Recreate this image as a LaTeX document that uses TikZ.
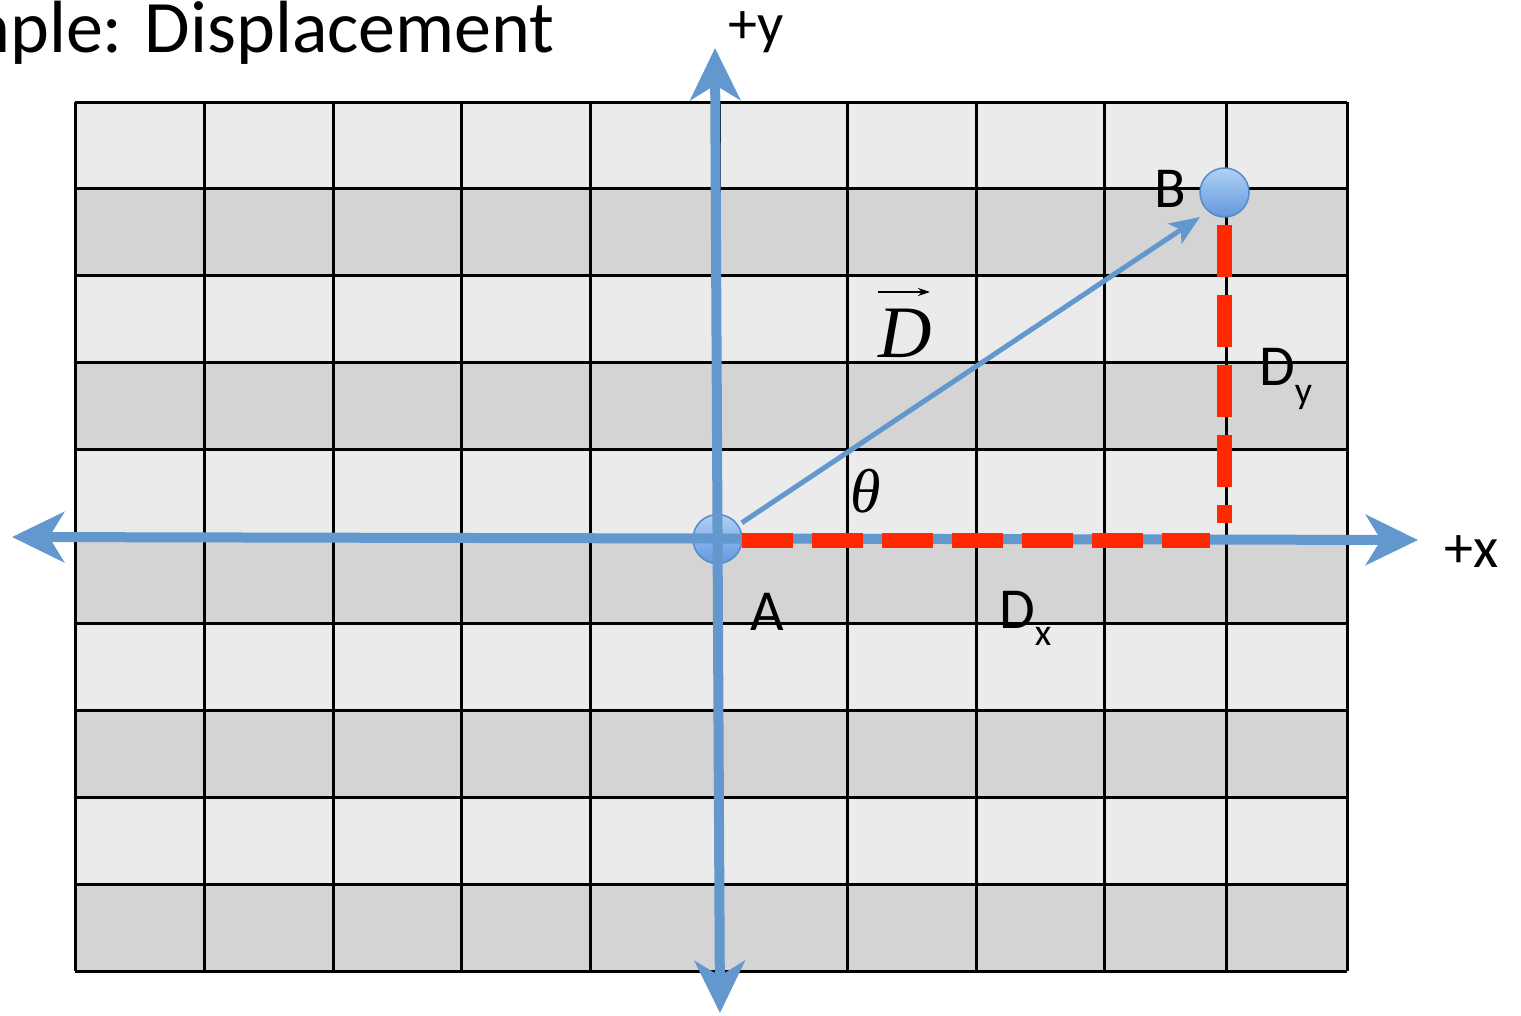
\documentclass[tikz,border=0pt]{standalone}
\usepackage{fontspec}
\setmainfont{Carlito}
\newfontfamily\tms{Liberation Serif}
\usetikzlibrary{arrows.meta}
\definecolor{axisblue}{RGB}{98,152,205}
\definecolor{lightcell}{RGB}{235,235,235}
\definecolor{darkcell}{RGB}{212,212,212}
\definecolor{dashred}{RGB}{255,40,0}
\definecolor{ballborder}{RGB}{88,138,198}
\definecolor{balltop}{RGB}{175,208,245}
\definecolor{ballbot}{RGB}{98,152,222}
\tikzset{
  gridline/.style={line width=3pt, black},
  axisline/.style={axisblue, line width=10pt,
    {Stealth[length=52pt,width=50pt,inset=15pt]}-{Stealth[length=52pt,width=50pt,inset=15pt]}},
  vecline/.style={axisblue, line width=5pt, -{Stealth[length=30pt,width=24pt,inset=7pt]}},
  compline/.style={dashred, line width=15pt},
  ball/.style={circle, minimum size=49pt, inner sep=0pt, draw=ballborder, line width=1.5pt,
    top color=balltop, bottom color=ballbot},
  lbl/.style={inner sep=0pt, font=\fontsize{58}{62}\selectfont},
}
\newcommand{\subtxt}[2]{\raisebox{#1}{\fontsize{38}{40}\selectfont #2}}
\begin{document}
\begin{tikzpicture}[x=1pt,y=-1pt]
\useasboundingbox (0,0) rectangle (1521,1015);
\clip (0,0) rectangle (1521,1015);
% cells
\foreach \i in {0,...,9}{
  \pgfmathsetmacro{\ya}{102+86.9*\i}
  \pgfmathsetmacro{\yb}{102+86.9*(\i+1)}
  \ifodd\i
    \fill[darkcell] (75,\ya) rectangle (1347,\yb);
  \else
    \fill[lightcell] (75,\ya) rectangle (1347,\yb);
  \fi
}
% grid lines
\foreach \x in {75,204,333,461,590,719,847,976,1104,1226,1347}
  \draw[gridline] (\x,102) -- (\x,971);
\foreach \i in {0,...,10}
  \draw[gridline] (75,102+86.9*\i) -- (1347,102+86.9*\i);
% title
\node[inner sep=0pt, anchor=base east, font=\fontsize{74}{80}\selectfont] (title) at (555,52) {Example: Displacement};
% points
\node[ball] (A) at (717.5,539) {};
\node[ball] (B) at (1224.5,192.5) {};
% axes
\coordinate (ytop) at (715,48);
\coordinate (ybot) at (720,1013);
\coordinate (xl) at (12,537);
\coordinate (xr) at (1418,540);
\draw[axisline] (xl) -- (xr);
\draw[axisline] (ybot) -- (ytop);
% components
\coordinate (hx0) at (742,540);
\coordinate (hx1) at (1210,540);
\coordinate (vy0) at (1224.5,225);
\coordinate (vy1) at (1224.5,523);
\draw[compline, dash pattern=on 51pt off 19pt] (hx0) -- (hx1);
\draw[compline, dash pattern=on 52pt off 18pt] (vy0) -- (vy1);
% displacement vector
\coordinate (Dend) at (1200,217);
\draw[vecline, shorten <=4pt] (A) -- (Dend);
% labels
\node[lbl, anchor=base west] (Alab) at (750,630) {A};
\node[lbl, anchor=base east] (Blab) at (1186,207) {B};
\node[lbl, anchor=base west] (Dx) at (999,628) {D\subtxt{-17pt}{x}};
\node[lbl, anchor=base west] (Dy) at (1259,385) {D\subtxt{-18pt}{y}};
\node[lbl, anchor=base west] (plusx) at (1444,567) {+x};
\node[lbl, anchor=base west] (plusy) at (728,43) {+y};
\node[inner sep=0pt, anchor=base west, font=\tms\itshape\fontsize{62}{66}\selectfont] (theta) at (850,512) {θ};
\node[inner sep=0pt, anchor=base west, font=\tms\itshape\fontsize{74}{80}\selectfont] (Dvec) at (878,357) {D};
\coordinate (arr0) at (878,292);
\coordinate (arr1) at (930,292);
\draw[black, line width=2.5pt, -{Stealth[length=12pt,width=8pt]}] (arr0) -- (arr1);
\end{tikzpicture}
\end{document}
